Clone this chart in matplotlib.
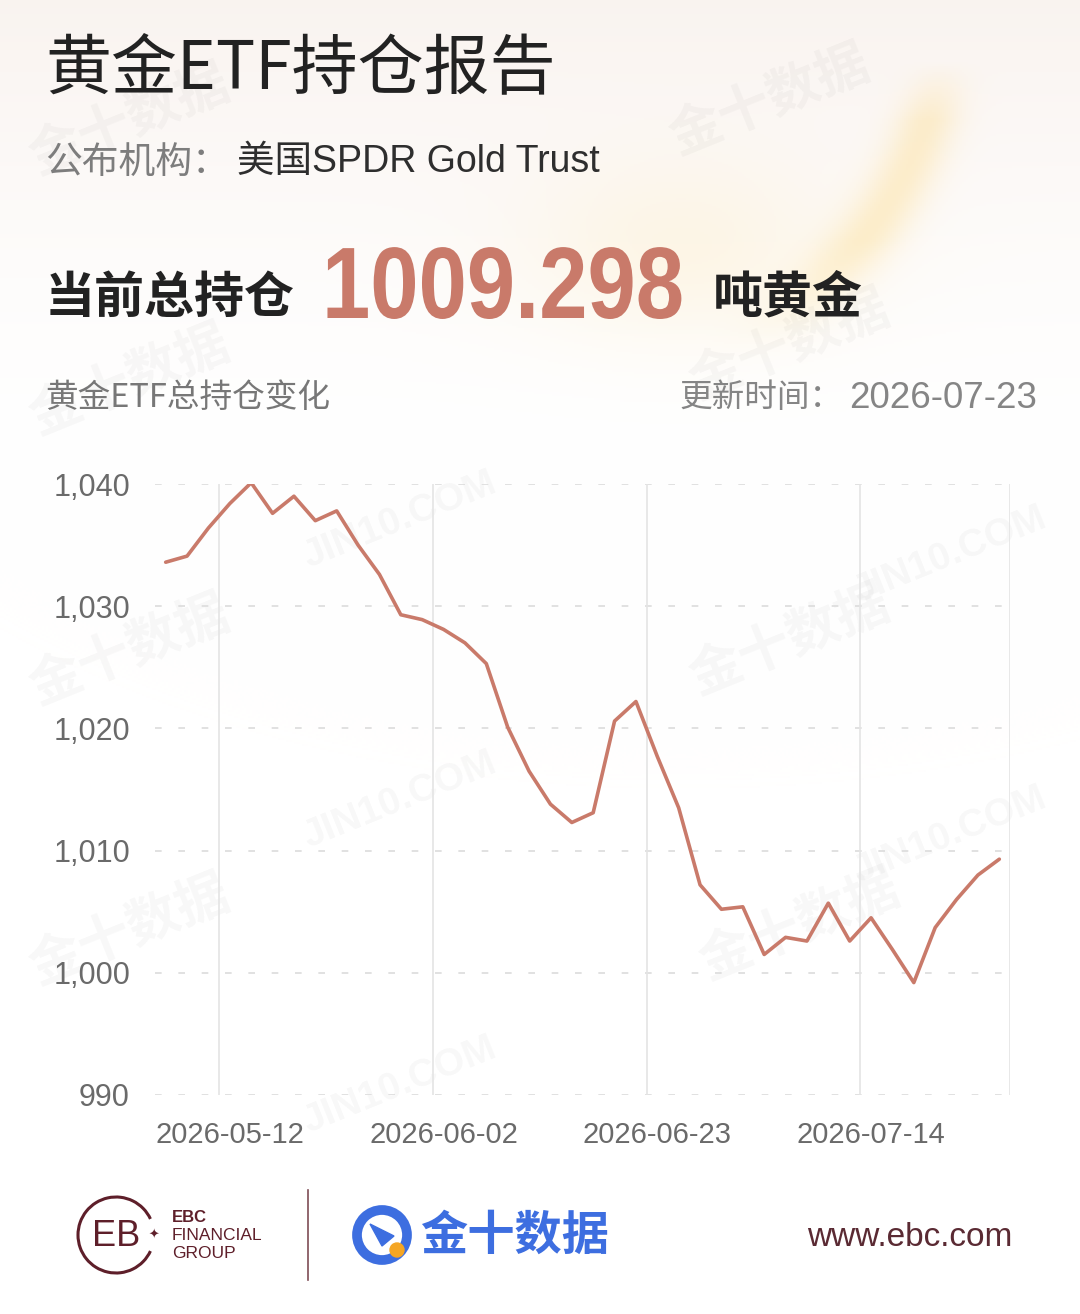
import numpy as np
import matplotlib
matplotlib.use("Agg")
import matplotlib.pyplot as plt
from matplotlib.patches import Arc, Circle, Polygon
from matplotlib.patheffects import AbstractPathEffect
from matplotlib.transforms import Affine2D

# data
values = [
    1033.6, 1034.1, 1036.4, 1038.4, 1040.1, 1037.6, 1039.0, 1037.0, 1037.8, 1035.0,
    1032.6, 1029.3, 1028.9, 1028.1, 1027.0, 1025.3, 1020.1, 1016.5, 1013.8, 1012.3,
    1013.1, 1020.6, 1022.2, 1017.7, 1013.5, 1007.2, 1005.2, 1005.4, 1001.5, 1002.9,
    1002.6, 1005.7, 1002.6, 1004.5, 1001.9, 999.2, 1003.7, 1006.0, 1008.0, 1009.298,
]
date_labels = ["2026-05-12", "2026-06-02", "2026-06-23", "2026-07-14"]
y_ticks = [990, 1000, 1010, 1020, 1030, 1040]
current_total = "1009.298"
update_date = "2026-07-23"

CJK = ["Noto Sans CJK SC", "DejaVu Sans"]
LAT = ["Liberation Sans", "DejaVu Sans"]
LAT_CJK = ["Liberation Sans", "Noto Sans CJK SC", "DejaVu Sans"]
LINE_COLOR = "#c97a6a"
W, H = 1080, 1314


class Stretch(AbstractPathEffect):
    # stretch glyphs vertically around the baseline y0 (display px); text stays a Text artist
    def __init__(self, sy, y0):
        super().__init__()
        self.sy = sy
        self.y0 = y0

    def draw_path(self, renderer, gc, tpath, affine, rgbFace=None):
        tall = Affine2D().translate(0, -self.y0).scale(1, self.sy).translate(0, self.y0)
        renderer.draw_path(gc, tpath, affine + tall, rgbFace)


fig = plt.figure(figsize=(W / 100, H / 100), dpi=100)

# background layer in pixel coordinates
bg = fig.add_axes([0, 0, 1, 1], zorder=0)
bg.set_xlim(0, W)
bg.set_ylim(H, 0)
bg.axis("off")

yy, xx = np.mgrid[0:H:2, 0:W:2]
img = np.ones((yy.shape[0], yy.shape[1], 3))
fade = np.clip(1 - yy / 470.0, 0, 1) ** 1.5
warm = np.array([0.978, 0.955, 0.94])
img = img * (1 - fade[..., None]) + warm * fade[..., None]
# soft yellow swoosh at the top right
d = np.abs(np.hypot(xx - 560, yy) - 385) / 30.0
mask = np.exp(-d ** 2) * np.clip((xx - 700) / 120.0, 0, 1) * np.clip((yy - 60) / 60.0, 0, 1) \
    * np.clip((360 - yy) / 120.0, 0, 1)
gold = np.array([0.99, 0.86, 0.55])
img = img * (1 - 0.4 * mask[..., None]) + gold * 0.4 * mask[..., None]
blob = np.exp(-(((xx - 680) / 160.0) ** 2 + ((yy - 250) / 90.0) ** 2))
img = img * (1 - 0.18 * blob[..., None]) + gold * 0.18 * blob[..., None]
bg.imshow(img, extent=[0, W, H, 0], aspect="auto", zorder=0)

# faint watermarks
for (x, y) in [(130, 120), (770, 100), (130, 380), (790, 345), (130, 650), (790, 640), (130, 930), (800, 925)]:
    bg.text(x, y, "金十数据", family=CJK, fontsize=38, fontweight="bold", color="#000000",
            alpha=0.03, rotation=22, ha="center", va="center", zorder=1)
for (x, y) in [(400, 520), (950, 555), (400, 800), (950, 835), (400, 1085)]:
    bg.text(x, y, "JIN10.COM", family=LAT, fontsize=28, fontweight="bold", color="#000000",
            alpha=0.03, rotation=22, ha="center", va="center", zorder=1)

# header texts
bg.text(45, 69, "黄金ETF持仓报告", family=CJK, fontsize=47.5, color="#222222", va="center", zorder=3)
bg.text(45, 162, "公布机构：", family=CJK, fontsize=26.5, color="#7d7d7d", va="center", zorder=3)
bg.text(237, 162, "美国SPDR Gold Trust", family=LAT_CJK, fontsize=27, color="#2e2e2e",
        va="center", zorder=3)
bg.text(45, 298, "当前总持仓", family=CJK, fontsize=36, fontweight="bold", color="#222222", va="center", zorder=3)
bg.text(322, 318, current_total, family=LAT, fontsize=62.5, fontweight="bold", color=LINE_COLOR,
        va="baseline", zorder=3, path_effects=[Stretch(1.17, H - 318)])
bg.text(713, 298, "吨黄金", family=CJK, fontsize=36, fontweight="bold", color="#222222", va="center", zorder=3)
bg.text(45, 398, "黄金ETF总持仓变化", family=CJK, fontsize=23.5, color="#777777", va="center", zorder=3)
bg.text(843, 398, "更新时间：", family=CJK, fontsize=23.5, color="#858585",
        ha="right", va="center", zorder=3)
bg.text(1037, 398, update_date, family=LAT, fontsize=26.5, color="#858585",
        ha="right", va="center", zorder=3)

# footer: EBC logo
maroon = "#5e1f2a"
bg.add_patch(Arc((116, 1235), 76, 76, theta1=25, theta2=335, lw=2.2, color=maroon, zorder=3))
bg.text(116, 1237, "EB", family=LAT, fontsize=26, color=maroon, ha="center", va="center", zorder=3)
bg.text(154, 1235, "✦", family=["DejaVu Sans"], fontsize=9, color=maroon, ha="center", va="center", zorder=3)
bg.text(172, 1217, "EBC", family=LAT, fontsize=12, fontweight="bold", color=maroon, va="center", zorder=3)
bg.text(172, 1236, "FINANCIAL", family=LAT, fontsize=12.5, color=maroon, va="center", zorder=3)
bg.text(172, 1254, "GROUP", family=LAT, fontsize=12.5, color=maroon, va="center", zorder=3)
bg.plot([308, 308], [1190, 1280], color=maroon, lw=1.2, alpha=0.8, zorder=3)

# footer: jin10 logo
blue = "#3d6ee0"
bg.add_patch(Circle((382, 1235), 25, fill=False, lw=7, color=blue, zorder=3))
bg.add_patch(Polygon([[370, 1224], [394, 1236], [382, 1246]], closed=True, color=blue, zorder=3))
bg.add_patch(Circle((397, 1250), 7, color="#f5a623", zorder=4))
bg.text(420, 1236, "金十数据", family=CJK, fontsize=34, fontweight="bold", color=blue, va="center", zorder=3)
bg.text(1012, 1238, "www.ebc.com", family=LAT, fontsize=24, color="#5a2a33", ha="right", va="center", zorder=3)

# chart
ax = fig.add_axes([155 / W, 1 - 1095 / H, (1010 - 155) / W, 611 / H], zorder=2)
ax.patch.set_alpha(0)
x = np.arange(len(values))
ax.plot(x, values, color=LINE_COLOR, lw=2.6, solid_joinstyle="round", solid_capstyle="round", zorder=3)
ax.set_xlim(-0.5, len(values) - 0.5)
ax.set_ylim(y_ticks[0], y_ticks[-1])
ax.set_yticks(y_ticks)
ax.set_yticklabels(["{:,}".format(v) for v in y_ticks])
ax.set_xticks(range(3, len(values), 10))
ax.set_xticklabels(date_labels)
for v in y_ticks:
    ax.axhline(v, color="#dcdcdc", lw=1.2, dashes=(4, 10), zorder=1)
for xv in np.arange(2.5, len(values), 10):
    ax.axvline(xv, color="#e4e4e4", lw=1.2, zorder=1)
ax.axvline(len(values) - 0.5, color="#e4e4e4", lw=1.2, zorder=1)
for s in ax.spines.values():
    s.set_visible(False)
ax.tick_params(length=0)
ax.tick_params(axis="y", pad=18, labelsize=22, labelcolor="#6a6a6a")
ax.tick_params(axis="x", pad=19, labelsize=21, labelcolor="#6a6a6a")
for lab in ax.get_xticklabels() + ax.get_yticklabels():
    lab.set_family(LAT)

fig.savefig("out.png", dpi=100)
